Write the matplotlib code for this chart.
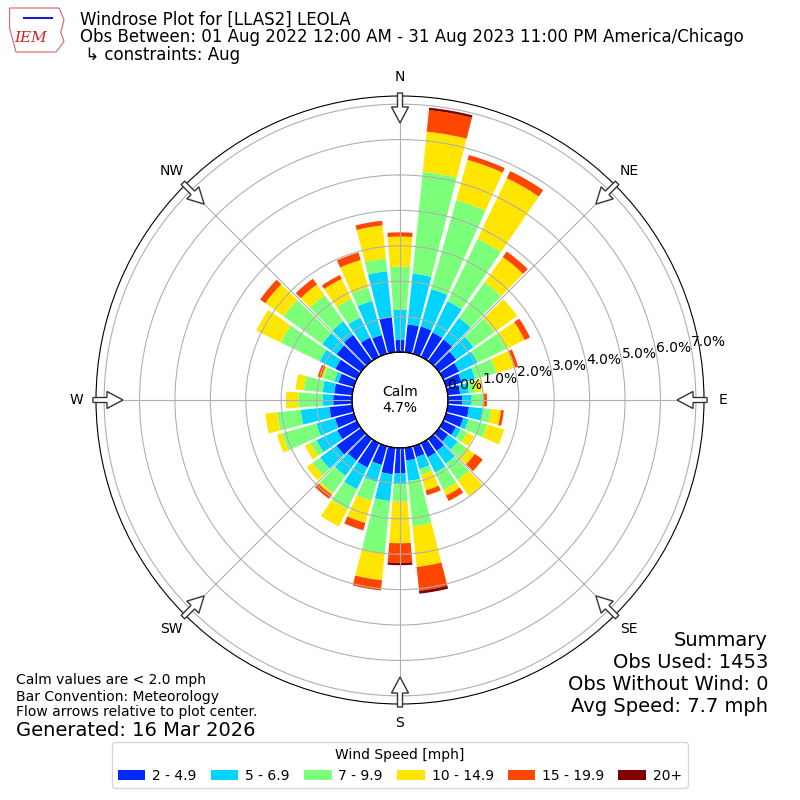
import matplotlib
matplotlib.use("Agg")
import matplotlib.pyplot as plt
import numpy as np
from matplotlib.patches import FancyArrow, Polygon

# direction bins (deg, meteorological convention)
directions = np.arange(0, 360, 10)

speed_labels = ["2 - 4.9", "5 - 6.9", "7 - 9.9", "10 - 14.9", "15 - 19.9", "20+"]
speed_colors = ["#0028ff", "#00d4ff", "#7cff7a", "#ffe500", "#ff4600", "#800000"]

# frequency [%] for each direction bin, one list per speed class
freq_2_5 = [0.34, 0.79, 0.80, 0.76, 0.75, 0.60, 0.50, 0.45, 0.35, 0.40, 0.60, 0.50,
            0.40, 0.32, 0.42, 0.44, 0.32, 0.36, 0.72, 0.75, 0.55, 0.76, 0.75, 0.85,
            0.61, 0.55, 0.65, 0.53, 0.51, 0.45, 0.67, 0.85, 0.91, 0.60, 0.55, 1.00]
freq_5_7 = [0.85, 1.44, 1.10, 0.98, 0.75, 0.60, 0.57, 0.40, 0.25, 0.27, 0.39, 0.15,
            0.15, 0.33, 0.44, 0.48, 0.35, 0.58, 0.28, 0.76, 0.50, 0.68, 0.53, 0.57,
            0.65, 0.55, 0.81, 0.30, 0.33, 0.12, 0.49, 0.50, 0.47, 0.63, 1.00, 1.30]
freq_7_10 = [1.22, 2.89, 2.61, 1.96, 1.24, 0.74, 0.91, 0.62, 0.20, 0.33, 0.24, 0.55,
             0.20, 0.33, 0.57, 0.55, 0.17, 1.29, 0.52, 1.48, 0.55, 0.62, 0.60, 0.27,
             0.19, 1.00, 0.67, 0.69, 0.53, 0.33, 1.22, 1.34, 0.91, 0.59, 0.40, 0.36]
freq_10_15 = [0.85, 1.14, 1.18, 1.90, 0.88, 0.78, 0.57, 0.55, 0.20, 0.02, 0.28, 0.50,
              0.22, 0.27, 0.56, 0.17, 0.46, 1.15, 1.17, 0.77, 0.65, 0.55, 0.06, 0.20,
              0.17, 0.15, 0.34, 0.34, 0.24, 0.05, 0.77, 0.64, 0.37, 0.62, 0.80, 0.94]
freq_15_20 = [0.12, 0.61, 0.14, 0.22, 0.19, 0.00, 0.17, 0.09, 0.00, 0.08, 0.08, 0.00,
              0.00, 0.27, 0.00, 0.17, 0.14, 0.68, 0.55, 0.29, 0.22, 0.00, 0.14, 0.00,
              0.00, 0.00, 0.00, 0.00, 0.00, 0.11, 0.00, 0.18, 0.20, 0.12, 0.22, 0.13]
freq_20 = [0.00, 0.07, 0.00, 0.00, 0.00, 0.00, 0.00, 0.00, 0.00, 0.00, 0.00, 0.00,
           0.00, 0.00, 0.00, 0.00, 0.00, 0.08, 0.07, 0.00, 0.00, 0.00, 0.00, 0.00,
           0.00, 0.00, 0.00, 0.00, 0.00, 0.00, 0.00, 0.00, 0.00, 0.00, 0.00, 0.00]
speed_bins = [freq_2_5, freq_5_7, freq_7_10, freq_10_15, freq_15_20, freq_20]

calm_pct = 4.7
rings = [0, 1, 2, 3, 4, 5, 6, 7]
compass = ["N", "NE", "E", "SE", "S", "SW", "W", "NW"]

fig = plt.figure(figsize=(8, 8), dpi=100)
ax = fig.add_axes([0.12, 0.12, 0.76, 0.76], projection="polar")
ax.set_theta_zero_location("N")
ax.set_theta_direction(-1)

theta = np.radians(directions)
bottom = np.zeros(len(directions))
handles = []
for vals, c, lab in zip(speed_bins, speed_colors, speed_labels):
    vals = np.array(vals)
    b = ax.bar(theta, vals, width=np.radians(8.6), bottom=bottom, color=c,
               linewidth=0, label=lab, zorder=1)
    handles.append(b)
    bottom += vals

ax.set_ylim(0, 7.23)
ax.set_rorigin(-1.356)
ax.set_axisbelow(False)
ax.set_yticks(rings)
ax.set_yticklabels(["%.1f%%" % r for r in rings], fontsize=10)
ax.set_rlabel_position(80)
ax.set_xticks(np.radians(np.arange(0, 360, 45)))
ax.set_xticklabels(compass, fontsize=10)
ax.tick_params(axis="x", pad=3.5)
ax.grid(True, color="#b0b0b0", linewidth=0.8)

# calm circle
tt = np.linspace(0, 2 * np.pi, 300)
ax.plot(tt, np.zeros_like(tt), color="black", linewidth=1, clip_on=False, zorder=3)
ax.text(0.5, 0.5, "Calm\n%.1f%%" % calm_pct, transform=ax.transAxes,
        ha="center", va="center", fontsize=10)

# flow arrows at the rim, pointing to the centre
for ang in np.radians(np.arange(0, 360, 45)):
    ux, uy = np.sin(ang), np.cos(ang)
    r0, r1 = 307 / 800, 277 / 800
    arr = FancyArrow(0.5 + r0 * ux, 0.5 + r0 * uy, (r1 - r0) * ux, (r1 - r0) * uy,
                     width=5 / 800, head_width=17 / 800, head_length=16 / 800,
                     length_includes_head=True, facecolor="white",
                     edgecolor="#333333", linewidth=1, transform=fig.transFigure)
    fig.add_artist(arr)

# header
fig.text(0.1, 0.975, "Windrose Plot for [LLAS2] LEOLA", fontsize=12, va="center")
fig.text(0.1, 0.954, "Obs Between: 01 Aug 2022 12:00 AM - 31 Aug 2023 11:00 PM America/Chicago",
         fontsize=12, va="center")
fig.text(0.1, 0.931, " \u21b3 constraints: Aug", fontsize=12, va="center")

# rough logo
logo = Polygon([[0.012, 0.990], [0.074, 0.990], [0.080, 0.975], [0.076, 0.960],
                [0.080, 0.948], [0.074, 0.940], [0.070, 0.935], [0.020, 0.935],
                [0.016, 0.950], [0.012, 0.965]], closed=True, fill=False,
               edgecolor="#e06060", linewidth=0.8, transform=fig.transFigure)
fig.add_artist(logo)
fig.text(0.038, 0.952, "IEM", fontsize=11, color="#cc2222", style="italic",
         family="DejaVu Serif", ha="center", va="center")
fig.add_artist(plt.Line2D([0.03, 0.065], [0.977, 0.977], color="#1a1acc", linewidth=1.5,
                          transform=fig.transFigure))

# footer
fig.text(0.02, 0.150, "Calm values are < 2.0 mph", fontsize=10, va="center")
fig.text(0.02, 0.129, "Bar Convention: Meteorology", fontsize=10, va="center")
fig.text(0.02, 0.110, "Flow arrows relative to plot center.", fontsize=10, va="center")
fig.text(0.02, 0.0875, "Generated: 16 Mar 2026", fontsize=14, va="center")

fig.text(0.96, 0.200, "Summary", fontsize=14, ha="right", va="center")
fig.text(0.96, 0.1725, "Obs Used: 1453", fontsize=14, ha="right", va="center")
fig.text(0.96, 0.145, "Obs Without Wind: 0", fontsize=14, ha="right", va="center")
fig.text(0.96, 0.1175, "Avg Speed: 7.7 mph", fontsize=14, ha="right", va="center")

fig.legend(handles=handles, loc="lower center", bbox_to_anchor=(0.5, 0.006), ncol=6,
           title="Wind Speed [mph]", fontsize=10, title_fontsize=10,
           columnspacing=1.0, handletextpad=0.5)

fig.savefig("out.png", dpi=100)
